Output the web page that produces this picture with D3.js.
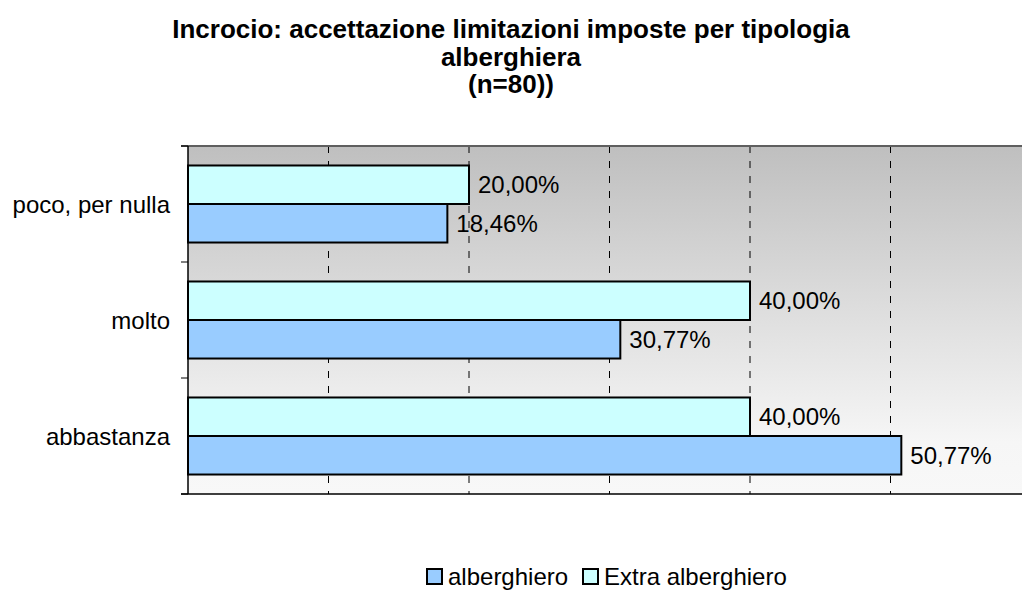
<!DOCTYPE html>
<html>
<head>
<meta charset="utf-8">
<script src="https://cdn.jsdelivr.net/npm/d3@7"></script>
<style>
  body { margin: 0; background: #fff; }
  svg text { font-family: Arial, "Liberation Sans", sans-serif; fill: #000; }
</style>
</head>
<body>
<div id="chart"></div>
<script>
// Data
const categories = ["poco, per nulla", "molto", "abbastanza"];
const seriesNames = ["Extra alberghiero", "alberghiero"];
const alberghiero = [18.46, 30.77, 50.77];
const extraAlberghiero = [20.00, 40.00, 40.00];
const titleLines = ["Incrocio: accettazione limitazioni imposte per tipologia", "alberghiera", "(n=80))"];
const xTicks = [0, 10, 20, 30, 40, 50, 60];

const W = 1022, H = 594;
const plot = {left: 188, top: 146, right: 1031, bottom: 494};
const colors = {"alberghiero": "#99ccff", "Extra alberghiero": "#ccffff"};
const fmt = v => v.toFixed(2).replace(".", ",") + "%";

const svg = d3.select("#chart").append("svg")
    .attr("width", W).attr("height", H);

// Background gradient
const grad = svg.append("defs").append("linearGradient")
    .attr("id", "bg").attr("x1", 0).attr("y1", 0).attr("x2", 0).attr("y2", 1);
grad.append("stop").attr("offset", "0%").attr("stop-color", "#bfbfbf");
grad.append("stop").attr("offset", "85%").attr("stop-color", "#f6f6f6");
grad.append("stop").attr("offset", "100%").attr("stop-color", "#f8f8f8");

svg.append("rect")
    .attr("x", plot.left).attr("y", plot.top)
    .attr("width", plot.right - plot.left).attr("height", plot.bottom - plot.top)
    .attr("fill", "url(#bg)");

// Scales
const x = d3.scaleLinear().domain([0, 60]).range([plot.left, plot.right]);
const y0 = d3.scaleBand().domain(categories).range([plot.top, plot.bottom])
    .paddingInner(0.336).paddingOuter(0.168);
const y1 = d3.scaleBand().domain(seriesNames).range([0, y0.bandwidth()]);

// Gridlines
svg.append("g").selectAll("line")
    .data(xTicks.filter(t => t > 0))
    .join("line")
    .attr("x1", d => x(d)).attr("x2", d => x(d))
    .attr("y1", plot.top).attr("y2", plot.bottom)
    .attr("stroke", "#000").attr("stroke-width", 1)
    .attr("stroke-dasharray", "7,8");

// Top border
svg.append("line")
    .attr("x1", plot.left - 7).attr("x2", W)
    .attr("y1", plot.top).attr("y2", plot.top)
    .attr("stroke", "#5f5f5f").attr("stroke-width", 2);

// Bars
const rows = categories.map((c, i) => ({
    cat: c,
    values: [
        {key: "Extra alberghiero", v: extraAlberghiero[i]},
        {key: "alberghiero", v: alberghiero[i]}
    ]
}));

const groups = svg.append("g").selectAll("g")
    .data(rows).join("g")
    .attr("transform", d => `translate(0,${y0(d.cat)})`);

groups.selectAll("rect")
    .data(d => d.values).join("rect")
    .attr("x", x(0))
    .attr("y", d => y1(d.key))
    .attr("width", d => x(d.v) - x(0))
    .attr("height", y1.bandwidth())
    .attr("fill", d => colors[d.key])
    .attr("stroke", "#000").attr("stroke-width", 2);

groups.selectAll("text")
    .data(d => d.values).join("text")
    .attr("x", d => x(d.v) + 9)
    .attr("y", d => y1(d.key) + y1.bandwidth() / 2)
    .attr("dy", "0.36em")
    .style("font-size", "24px")
    .text(d => fmt(d.v));

// Left axis with ticks at band boundaries
const boundaries = d3.range(categories.length + 1).map(i => plot.top + i * y0.step());
svg.append("line")
    .attr("x1", plot.left).attr("x2", plot.left)
    .attr("y1", plot.top).attr("y2", plot.bottom)
    .attr("stroke", "#000").attr("stroke-width", 1.5);
svg.append("g").selectAll("line")
    .data(boundaries).join("line")
    .attr("x1", plot.left - 7).attr("x2", plot.left)
    .attr("y1", d => d).attr("y2", d => d)
    .attr("stroke", "#000").attr("stroke-width", 1);

// Bottom axis
svg.append("line")
    .attr("x1", plot.left - 7).attr("x2", W)
    .attr("y1", plot.bottom).attr("y2", plot.bottom)
    .attr("stroke", "#000").attr("stroke-width", 1.5);

// Category labels
svg.append("g").selectAll("text")
    .data(categories).join("text")
    .attr("x", plot.left - 18)
    .attr("y", d => y0(d) + y0.bandwidth() / 2)
    .attr("dy", "0.36em")
    .attr("text-anchor", "end")
    .style("font-size", "24px")
    .text(d => d);

// Title
svg.append("g").selectAll("text")
    .data(titleLines).join("text")
    .attr("x", 511)
    .attr("y", (d, i) => 38 + i * 27.5)
    .attr("text-anchor", "middle")
    .style("font-size", "26px")
    .style("font-weight", "bold")
    .text(d => d);

// Legend
const legendItems = [
    {key: "alberghiero", x: 427},
    {key: "Extra alberghiero", x: 583}
];
const lg = svg.append("g").selectAll("g")
    .data(legendItems).join("g")
    .attr("transform", d => `translate(${d.x},569)`);
lg.append("rect")
    .attr("width", 15).attr("height", 15)
    .attr("fill", d => colors[d.key])
    .attr("stroke", "#000").attr("stroke-width", 2);
lg.append("text")
    .attr("x", 21).attr("y", 16)
    .style("font-size", "24px")
    .text(d => d.key);
</script>
</body>
</html>
